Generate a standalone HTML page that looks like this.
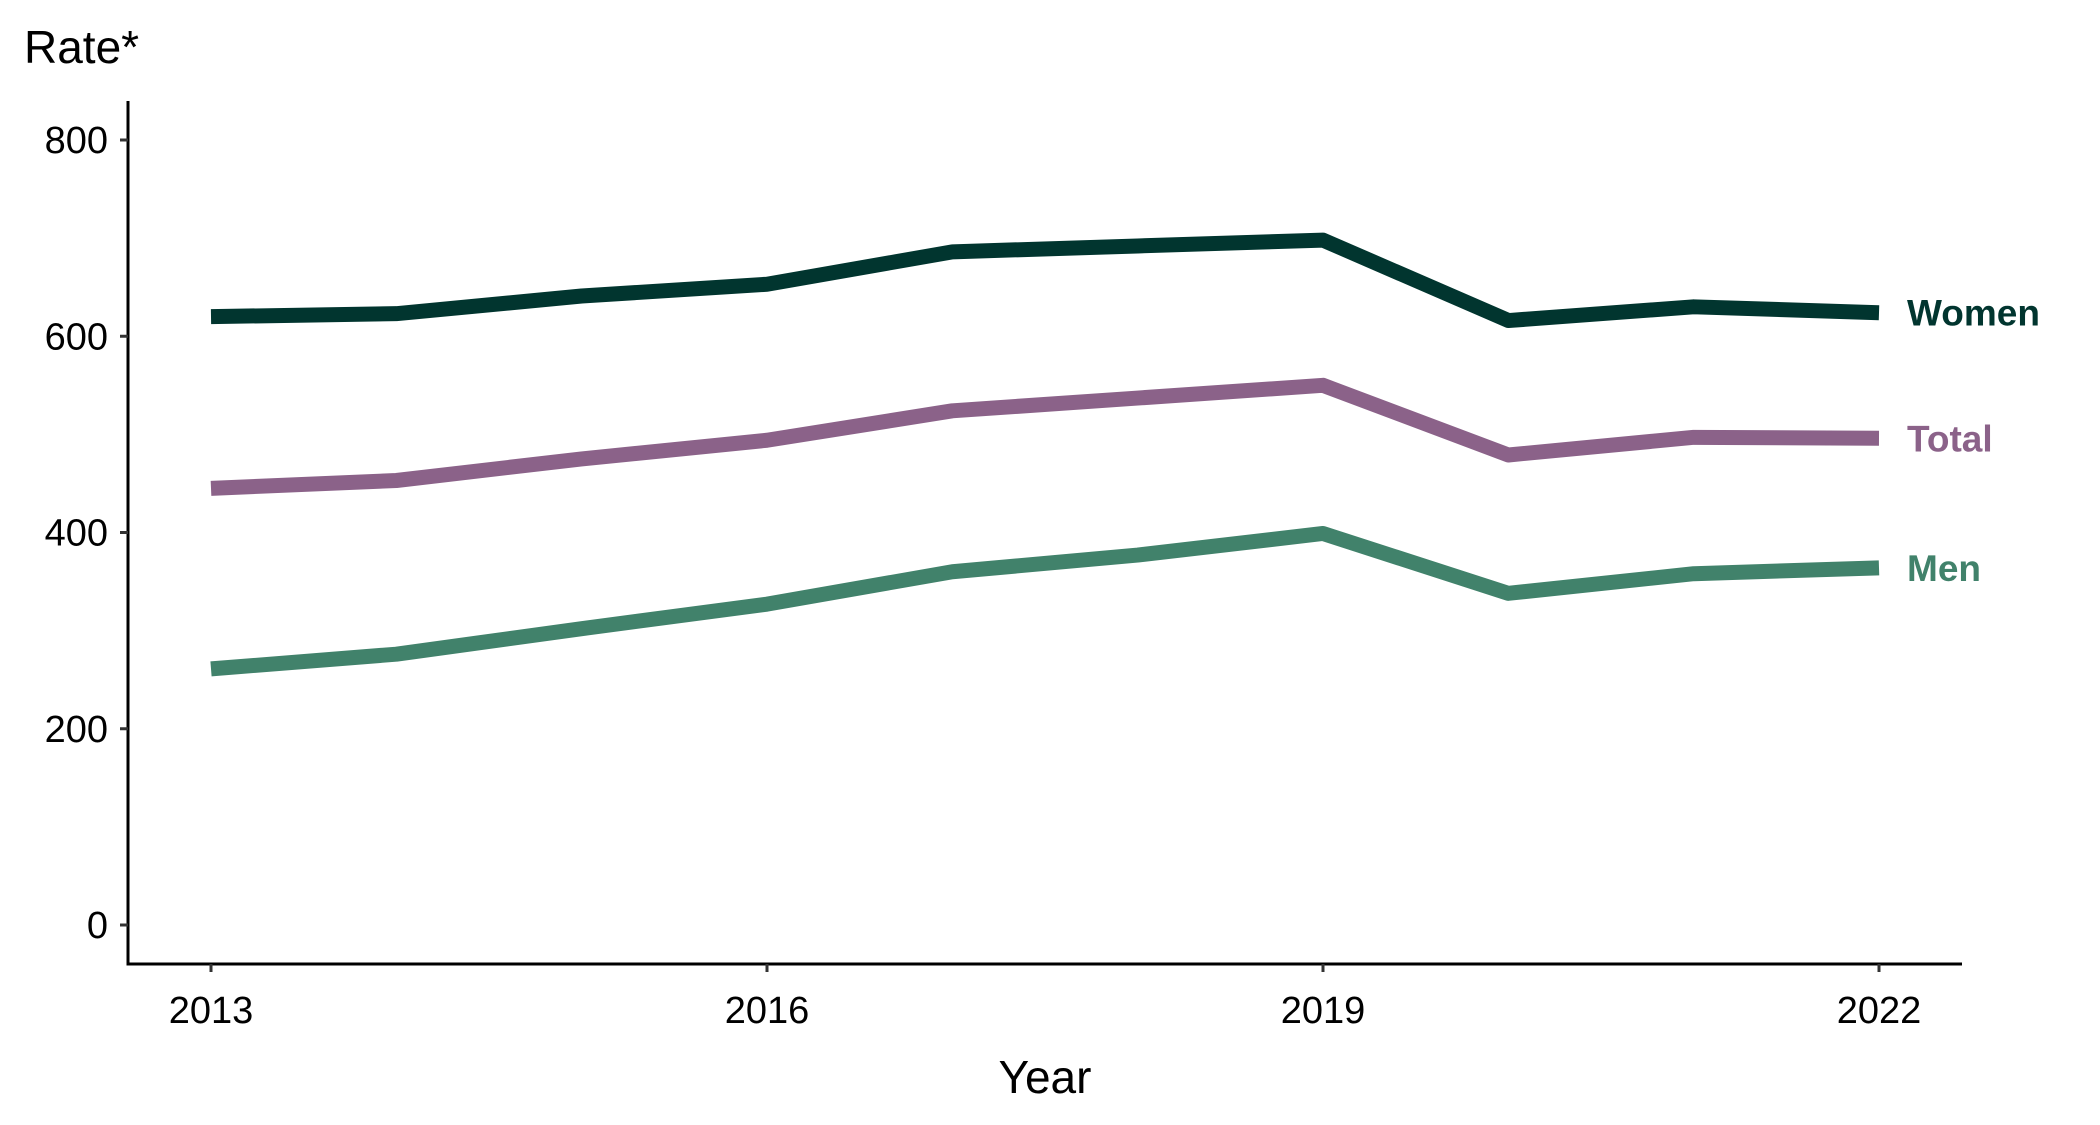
<!DOCTYPE html>
<html><head><meta charset="utf-8"><style>
html,body{margin:0;padding:0;background:#fff;}
svg{display:block;font-family:"Liberation Sans",Arial,sans-serif;}
</style></head><body>
<svg id="chart" width="2100" height="1125" viewBox="0 0 2100 1125">
<text x="24" y="63" font-size="46" fill="#000">Rate*</text>
<text x="1045" y="1093" font-size="46" fill="#000" text-anchor="middle">Year</text>
<line x1="128" y1="101" x2="128" y2="964" stroke="#000" stroke-width="3"/>
<line x1="126.5" y1="964" x2="1962" y2="964" stroke="#000" stroke-width="3"/>
<g id="yticks"></g><g id="xticks"></g><g id="lines"></g><g id="labels"></g>
</svg>
<script>
const years = [2013,2014,2015,2016,2017,2018,2019,2020,2021,2022];
const women = [620,623,641,653,686,692,698,616,630,624];
const total = [445,453,475,494,524,537,550,479,497,496];
const men = [261,276,302,327,360,377,399,338,358,364];
const yTicks = [0,200,400,600,800];
const xTicks = [2013,2016,2019,2022];
const seriesNames = ["Women","Total","Men"];

const NS="http://www.w3.org/2000/svg";
function xs(v){return 211+(v-2013)*(1879-211)/9;}
function ys(v){return 925-v*(925-140)/800;}
function mk(tag,attrs,parent){const e=document.createElementNS(NS,tag);for(const k in attrs)e.setAttribute(k,attrs[k]);parent.appendChild(e);return e;}
const yg=document.getElementById('yticks'),xg=document.getElementById('xticks'),lg=document.getElementById('lines'),tg=document.getElementById('labels');
yTicks.forEach(t=>{
  const l=mk('line',{x1:120,x2:128,y1:ys(t),y2:ys(t),stroke:'#333','stroke-width':3},yg);
  
  
  const tx=mk('text',{x:108,y:ys(t)+13,'font-size':38,'text-anchor':'end',fill:'#000'},yg);
  tx.textContent=t;
  
  
});
xTicks.forEach(t=>{
  const l=mk('line',{x1:xs(t),x2:xs(t),y1:964,y2:972,stroke:'#333','stroke-width':3},xg);
  
  
  const tx=mk('text',{x:xs(t),y:1023,'font-size':38,'text-anchor':'middle',fill:'#000'},xg);
  tx.textContent=t;
  
  
});
const data=[women,total,men];
const colors=["#01352F","#8B6289","#41826B"];
data.forEach((vals,i)=>{
  const pts=vals.map((v,j)=>xs(years[j])+','+ys(v)).join(' ');
  const p=mk('polyline',{points:pts,fill:'none',stroke:colors[i],'stroke-width':15,'stroke-linejoin':'round'},lg);
  
  
  const last=vals[vals.length-1];
  const tx=mk('text',{x:1907,y:ys(last)+13,'font-size':37,'font-weight':'bold',fill:colors[i]},tg);
  tx.textContent=seriesNames[i];
  
  
});
</script>
</body></html>
